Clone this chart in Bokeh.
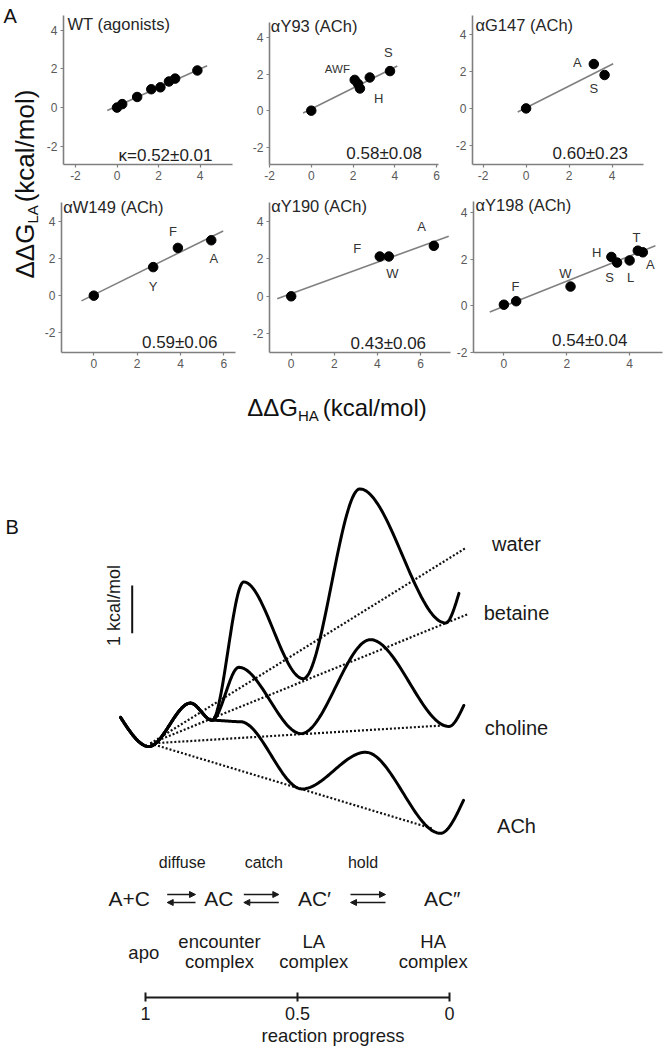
import numpy as np
from bokeh.plotting import figure
from bokeh.models import Range1d, FixedTicker, Label, Arrow, NormalHead
from bokeh.layouts import row, column
from bokeh.embed import file_html
from bokeh.resources import INLINE
from bokeh.core.properties import value

FONT = "Liberation Sans"

# ---------------- Panel A data (kcal/mol) ----------------
y_ticks = [-2, 0, 2, 4]
titles = ["WT (agonists)", "\u03b1Y93 (ACh)", "\u03b1G147 (ACh)",
          "\u03b1W149 (ACh)", "\u03b1Y190 (ACh)", "\u03b1Y198 (ACh)"]
kappa_text = ["\u03ba=0.52\u00b10.01", "0.58\u00b10.08", "0.60\u00b10.23",
              "0.59\u00b10.06", "0.43\u00b10.06", "0.54\u00b10.04"]

wt_x = [0.0, 0.25, 0.97, 1.65, 2.09, 2.5, 2.8, 3.87]
wt_y = [0.0, 0.18, 0.55, 0.95, 1.05, 1.35, 1.5, 1.92]
wt_fit_x = [-0.47, 4.34]
wt_fit_y = [-0.15, 2.16]
wt_xticks = [-2, 0, 2, 4]

y93_x = [0.0, 2.08, 2.24, 2.33, 2.8, 3.77]
y93_y = [0.0, 1.68, 1.46, 1.21, 1.81, 2.16]
y93_lab = ["AWF", "S", "H"]
y93_lab_x = [1.25, 3.69, 3.23]
y93_lab_y = [2.3, 3.19, 0.66]
y93_fit_x = [-0.39, 4.12]
y93_fit_y = [-0.13, 2.44]
y93_xticks = [-2, 0, 2, 4, 6]

g147_x = [0.0, 3.15, 3.65]
g147_y = [0.0, 2.39, 1.8]
g147_lab = ["A", "S"]
g147_lab_x = [2.38, 3.15]
g147_lab_y = [2.5, 1.09]
g147_fit_x = [-0.39, 4.05]
g147_fit_y = [-0.19, 2.41]
g147_xticks = [-2, 0, 2, 4]

w149_x = [0.0, 2.74, 3.88, 5.42]
w149_y = [0.0, 1.53, 2.56, 2.97]
w149_lab = ["F", "A", "Y"]
w149_lab_x = [3.65, 5.54, 2.74]
w149_lab_y = [3.42, 2.0, 0.48]
w149_fit_x = [-0.57, 5.97]
w149_fit_y = [-0.28, 3.47]
w149_xticks = [0, 2, 4, 6]

y190_x = [0.0, 4.11, 4.53, 6.62]
y190_y = [0.0, 2.12, 2.12, 2.69]
y190_lab = ["F", "W", "A"]
y190_lab_x = [3.06, 4.69, 6.05]
y190_lab_y = [2.53, 1.2, 3.72]
y190_fit_x = [-0.65, 7.31]
y190_fit_y = [-0.13, 3.2]
y190_xticks = [0, 2, 4, 6]

y198_x = [0.0, 0.39, 2.12, 3.42, 3.6, 4.0, 4.26, 4.42]
y198_y = [0.05, 0.2, 0.83, 2.1, 1.86, 1.95, 2.37, 2.3]
y198_lab = ["F", "W", "H", "S", "L", "T", "A"]
y198_lab_x = [0.37, 1.96, 2.95, 3.36, 4.03, 4.22, 4.66]
y198_lab_y = [0.84, 1.41, 2.29, 1.2, 1.2, 2.94, 1.76]
y198_fit_x = [-0.45, 4.82]
y198_fit_y = [-0.26, 2.58]
y198_xticks = [0, 2, 4]

A_DATA = [
    dict(x=wt_x, y=wt_y, lab=[], lx=[], ly=[], fx=wt_fit_x, fy=wt_fit_y, xt=wt_xticks),
    dict(x=y93_x, y=y93_y, lab=y93_lab, lx=y93_lab_x, ly=y93_lab_y, fx=y93_fit_x, fy=y93_fit_y, xt=y93_xticks),
    dict(x=g147_x, y=g147_y, lab=g147_lab, lx=g147_lab_x, ly=g147_lab_y, fx=g147_fit_x, fy=g147_fit_y, xt=g147_xticks),
    dict(x=w149_x, y=w149_y, lab=w149_lab, lx=w149_lab_x, ly=w149_lab_y, fx=w149_fit_x, fy=w149_fit_y, xt=w149_xticks),
    dict(x=y190_x, y=y190_y, lab=y190_lab, lx=y190_lab_x, ly=y190_lab_y, fx=y190_fit_x, fy=y190_fit_y, xt=y190_xticks),
    dict(x=y198_x, y=y198_y, lab=y198_lab, lx=y198_lab_x, ly=y198_lab_y, fx=y198_fit_x, fy=y198_fit_y, xt=y198_xticks),
]

# ---- layout of the panel-A sub-plots, in page pixels ----
# fig: (left, right, top, bottom) of the figure box; frame: left/right/bottom, axis top;
# x0/xs, y0/ys: pixel of value 0 and pixels per unit; title/kappa anchors
A_LAYOUT = [
    dict(fig=(40, 240, 0, 190), fl=63, fr=232, fb=164, at=15, x0=116.5, xs=20.77, y0=107.1, ys=19.33,
         title=(67, 23), kappa=(165, 155)),
    dict(fig=(240, 447, 0, 190), fl=269, fr=438, fb=169, at=23, x0=310.5, xs=20.93, y0=113.5, ys=18.9,
         title=(270, 26), kappa=(383.5, 158)),
    dict(fig=(447, 665, 0, 190), fl=472, fr=643, fb=166, at=15, x0=525.6, xs=21.5, y0=109.2, ys=18.78,
         title=(475, 25), kappa=(589.8, 155)),
    dict(fig=(40, 242, 190, 380), fl=61, fr=235, fb=353, at=202, x0=93.3, xs=21.67, y0=295.8, ys=18.77,
         title=(62.7, 206.7), kappa=(179.2, 342.7)),
    dict(fig=(242, 452, 190, 380), fl=269, fr=450, fb=352, at=202, x0=290.7, xs=21.55, y0=295.8, ys=18.77,
         title=(270.7, 205), kappa=(387.8, 343.3)),
    dict(fig=(452, 665, 190, 380), fl=473, fr=662, fb=353, at=201, x0=503.4, xs=31.43, y0=306.5, ys=23.53,
         title=(475, 204.3), kappa=(589.2, 341)),
]
FRAME_TOP_PAD = 3
LABEL_SIZE = {"AWF": "11.5px"}
AXIS_GRAY = "#7f7f7f"


def build_panel(i):
    L = A_LAYOUT[i]
    D = A_DATA[i]
    fx0, fx1, fy0, fy1 = L["fig"]
    ftop = fy0 + FRAME_TOP_PAD
    px2x = lambda px: (px - L["x0"]) / L["xs"]
    px2y = lambda py: (L["y0"] - py) / L["ys"]
    xr = (min(px2x(L["fl"]), min(D["xt"])), px2x(L["fr"]))
    yr = (min(px2y(L["fb"]), min(y_ticks)), px2y(ftop))
    p = figure(width=fx1 - fx0, height=fy1 - fy0, x_range=Range1d(*xr), y_range=Range1d(*yr),
               min_border_left=L["fl"] - fx0, min_border_right=fx1 - L["fr"],
               min_border_top=FRAME_TOP_PAD, min_border_bottom=fy1 - L["fb"],
               toolbar_location=None, output_backend="svg", title=None)
    p.outline_line_color = None
    p.grid.visible = False
    p.background_fill_color = "white"
    p.border_fill_color = "white"
    for ax, ticks in ((p.xaxis[0], D["xt"]), (p.yaxis[0], y_ticks)):
        ax.ticker = FixedTicker(ticks=ticks)
        ax.major_label_overrides = {t: ("-%d" % -t if t < 0 else "%d" % t) for t in ticks}
        ax.minor_tick_line_color = None
        ax.major_tick_in = 0
        ax.major_tick_out = 3
        ax.axis_line_color = AXIS_GRAY
        ax.axis_line_width = 1.6
        ax.major_tick_line_color = AXIS_GRAY
        ax.major_tick_line_width = 1.2
        ax.major_label_text_font = FONT
        ax.major_label_text_font_size = "12px"
        ax.major_label_text_color = "#595959"
        ax.major_label_standoff = 3
    p.yaxis[0].bounds = (yr[0], px2y(L["at"]))
    p.line(D["fx"], D["fy"], line_color="#808080", line_width=1.6)
    p.scatter(D["x"], D["y"], size=9.5, fill_color="black", line_color="black")
    for txt, lx, ly in zip(D["lab"], D["lx"], D["ly"]):
        p.text(x=[lx], y=[ly], text=[txt], text_font=value(FONT),
               text_font_size=LABEL_SIZE.get(txt, "13px"), text_align="center",
               text_baseline="middle", text_color="#333333")
    p.add_layout(Label(x=px2x(L["title"][0]), y=px2y(L["title"][1]), text=titles[i], text_font=FONT,
                       text_font_size="16.5px", text_align="left", text_baseline="middle",
                       text_color="#262626"))
    p.add_layout(Label(x=px2x(L["kappa"][0]), y=px2y(L["kappa"][1]), text=kappa_text[i], text_font=FONT,
                       text_font_size="17px", text_align="center", text_baseline="middle",
                       text_color="#1f1f1f"))
    return p


def blank(w, h):
    p = figure(width=w, height=h, x_range=Range1d(0, w), y_range=Range1d(0, h),
               x_axis_location=None, y_axis_location=None, min_border=0,
               min_border_left=0, min_border_right=0, min_border_top=0, min_border_bottom=0,
               toolbar_location=None, output_backend="svg", title=None)
    p.outline_line_color = None
    p.grid.visible = False
    return p


panels = [build_panel(i) for i in range(6)]

# left strip: panel letter + y axis label
LEFT_W, LEFT_H = 40, 380
left = blank(LEFT_W, LEFT_H)
left.add_layout(Label(x=3, y=LEFT_H - 15, text="A", text_font=FONT, text_font_size="20px",
                      text_align="left", text_baseline="middle", text_color="#111111"))
YL_Y0 = LEFT_H - 278
left.add_layout(Label(x=24, y=YL_Y0, text="\u0394\u0394G", angle=np.pi / 2, text_font=FONT,
                      text_font_size="26px", text_align="left", text_baseline="middle",
                      text_color="#111111"))
left.add_layout(Label(x=31.5, y=YL_Y0 + 54.9, text="LA", angle=np.pi / 2, text_font=FONT,
                      text_font_size="15px", text_align="left", text_baseline="middle",
                      text_color="#111111"))
left.add_layout(Label(x=24, y=YL_Y0 + 54.9 + 18.3 + 3, text="(kcal/mol)", angle=np.pi / 2,
                      text_font=FONT, text_font_size="26px", text_align="left",
                      text_baseline="middle", text_color="#111111"))

# strip with the x axis label
strip = blank(665, 53)
XL_X0 = 246.7
strip.add_layout(Label(x=XL_X0, y=26.3, text="\u0394\u0394G", text_font=FONT, text_font_size="24px",
                       text_align="left", text_baseline="middle", text_color="#111111"))
strip.add_layout(Label(x=XL_X0 + 50.7, y=18.2, text="HA", text_font=FONT, text_font_size="15px",
                       text_align="left", text_baseline="middle", text_color="#111111"))
strip.add_layout(Label(x=XL_X0 + 50.7 + 20.8 + 4, y=26.3, text="(kcal/mol)", text_font=FONT,
                       text_font_size="24px", text_align="left", text_baseline="middle",
                       text_color="#111111"))

# ---------------- Panel B data: (reaction progress, energy kcal/mol) ----------------
prefix_p = [1.082, 0.989, 0.852, 0.781]
prefix_E = [0.61, 0.0, 0.91, 0.55]
water_p = prefix_p + [0.677, 0.481, 0.295, 0.013, -0.031]
water_E = prefix_E + [3.45, 1.42, 5.40, 2.59, 3.21]
choline_p = prefix_p + [0.693, 0.488, 0.260, 0.002, -0.047]
choline_E = prefix_E + [1.66, 0.27, 2.24, 0.42, 0.86]
ach_p = prefix_p + [0.688, 0.485, 0.276, 0.030, -0.046]
ach_E = prefix_E + [0.52, -0.89, -0.12, -1.82, -1.13]

dot_origin = (0.984, 0.063)
dot_names = ["water", "betaine", "choline", "ACh"]
dot_end_p = [-0.053, -0.0625, 0.024, 0.057]
dot_end_E = [4.16, 2.78, 0.44, -1.72]

progress_ticks = [0, 0.5, 1]
scheme_steps = ["diffuse", "catch", "hold"]
species = ["A+C", "AC", "AC\u2032", "AC\u2033"]
states_top = ["apo", "encounter", "LA", "HA"]
states_bot = ["", "complex", "complex", "complex"]


# placement helpers for panel B (page pixels -> data)
def bx(xr):
    return (449.0 - xr) / 304.0


def by(yr):
    return (746.0 - yr) / 47.7


def smooth_path(kp, ke, n=40):
    kp = np.asarray(kp, float)
    ke = np.asarray(ke, float)
    m = np.zeros(len(kp))
    m[0] = 1.5 * (ke[1] - ke[0]) / (kp[1] - kp[0])
    m[-1] = 1.5 * (ke[-1] - ke[-2]) / (kp[-1] - kp[-2])
    xs, ys = [], []
    t = np.linspace(0, 1, n)
    h00 = 2 * t**3 - 3 * t**2 + 1
    h10 = t**3 - 2 * t**2 + t
    h01 = -2 * t**3 + 3 * t**2
    h11 = t**3 - t**2
    for i in range(len(kp) - 1):
        dx = kp[i + 1] - kp[i]
        xs.append(kp[i] + t * dx)
        ys.append(h00 * ke[i] + h10 * dx * m[i] + h01 * ke[i + 1] + h11 * dx * m[i + 1])
    return np.concatenate(xs), np.concatenate(ys)


B_TOP, B_H, B_BB = 433, 617, 53
frame_bottom = B_TOP + B_H - B_BB
pB = figure(width=665, height=B_H,
            x_range=Range1d(bx(0), bx(665)),
            y_range=Range1d(by(frame_bottom), by(B_TOP)),
            min_border_left=0, min_border_right=0, min_border_top=0, min_border_bottom=B_BB,
            y_axis_location=None, toolbar_location=None, output_backend="svg", title=None)
pB.outline_line_color = None
pB.grid.visible = False
ax = pB.xaxis[0]
ax.ticker = FixedTicker(ticks=progress_ticks)
ax.bounds = (0, 1)
ax.minor_tick_line_color = None
ax.axis_line_color = "#1a1a1a"
ax.axis_line_width = 2
ax.major_tick_line_color = "#1a1a1a"
ax.major_tick_line_width = 2
ax.major_tick_in = 5
ax.major_tick_out = 4
ax.major_label_text_font = FONT
ax.major_label_text_font_size = "18px"
ax.major_label_text_color = "#1a1a1a"
ax.major_label_standoff = 5
ax.axis_label = "reaction progress"
ax.axis_label_text_font = FONT
ax.axis_label_text_font_size = "18.5px"
ax.axis_label_text_font_style = "normal"
ax.axis_label_text_color = "#1a1a1a"
ax.axis_label_standoff = 2

# dotted lines
for ep, ee in zip(dot_end_p, dot_end_E):
    pB.line([dot_origin[0], ep], [dot_origin[1], ee], line_color="#111111",
            line_width=2.2, line_dash="2 2")
# solid energy curves
for kp, ke in ((water_p, water_E), (choline_p, choline_E), (ach_p, ach_E)):
    xs, ys = smooth_path(kp, ke)
    pB.line(xs, ys, line_color="black", line_width=3, line_join="round", line_cap="round")

# scale bar: 1 kcal/mol
sb_x = bx(131.7)
sb_y0 = by(632.7)
pB.line([sb_x, sb_x], [sb_y0, sb_y0 + 1.0], line_color="#111111", line_width=2)
pB.add_layout(Label(x=bx(113.3), y=by(605), text="1 kcal/mol", angle=np.pi / 2, text_font=FONT,
                    text_font_size="18px", text_align="center", text_baseline="middle",
                    text_color="#1a1a1a"))
pB.add_layout(Label(x=bx(5), y=by(526), text="B", text_font=FONT, text_font_size="20px",
                    text_align="left", text_baseline="middle", text_color="#111111"))

name_y = [543.3, 612.7, 727.7, 825]
for nm, yy in zip(dot_names, name_y):
    pB.add_layout(Label(x=bx(516), y=by(yy), text=nm, text_font=FONT, text_font_size="20px",
                        text_align="center", text_baseline="middle", text_color="#1a1a1a"))

step_x = [181.7, 263.3, 362.5]
for nm, xx in zip(scheme_steps, step_x):
    pB.add_layout(Label(x=bx(xx), y=by(861.7), text=nm, text_font=FONT, text_font_size="16px",
                        text_align="center", text_baseline="middle", text_color="#1a1a1a"))

species_x = [128.8, 218.3, 314, 441.7]
for nm, xx in zip(species, species_x):
    pB.add_layout(Label(x=bx(xx), y=by(898.3), text=nm, text_font=FONT, text_font_size="21px",
                        text_align="center", text_baseline="middle", text_color="#1a1a1a"))

arrow_spans = [(166.7, 195.0), (243.3, 278.3), (350.0, 385.0)]
for x0, x1 in arrow_spans:
    pB.add_layout(Arrow(end=NormalHead(size=6, fill_color="#1a1a1a", line_color="#1a1a1a", line_width=1),
                        x_start=bx(x0), y_start=by(894), x_end=bx(x1), y_end=by(894),
                        line_color="#1a1a1a", line_width=1.5))
    pB.add_layout(Arrow(end=NormalHead(size=6, fill_color="#1a1a1a", line_color="#1a1a1a", line_width=1),
                        x_start=bx(x1), y_start=by(902), x_end=bx(x0), y_end=by(902),
                        line_color="#1a1a1a", line_width=1.5))

state_x = [143.3, 219.0, 313.3, 432.7]
for t1, t2, xx in zip(states_top, states_bot, state_x):
    if t2:
        pB.add_layout(Label(x=bx(xx), y=by(940.7), text=t1, text_font=FONT, text_font_size="18.5px",
                            text_align="center", text_baseline="middle", text_color="#1a1a1a"))
        pB.add_layout(Label(x=bx(xx), y=by(960.7), text=t2, text_font=FONT, text_font_size="18.5px",
                            text_align="center", text_baseline="middle", text_color="#1a1a1a"))
    else:
        pB.add_layout(Label(x=bx(xx), y=by(951.7), text=t1, text_font=FONT, text_font_size="18.5px",
                            text_align="center", text_baseline="middle", text_color="#1a1a1a"))

layout = column(
    row(left, column(row(panels[0], panels[1], panels[2]), row(panels[3], panels[4], panels[5]))),
    strip,
    pB,
)

open("out.html", "w").write(file_html(layout, INLINE))
